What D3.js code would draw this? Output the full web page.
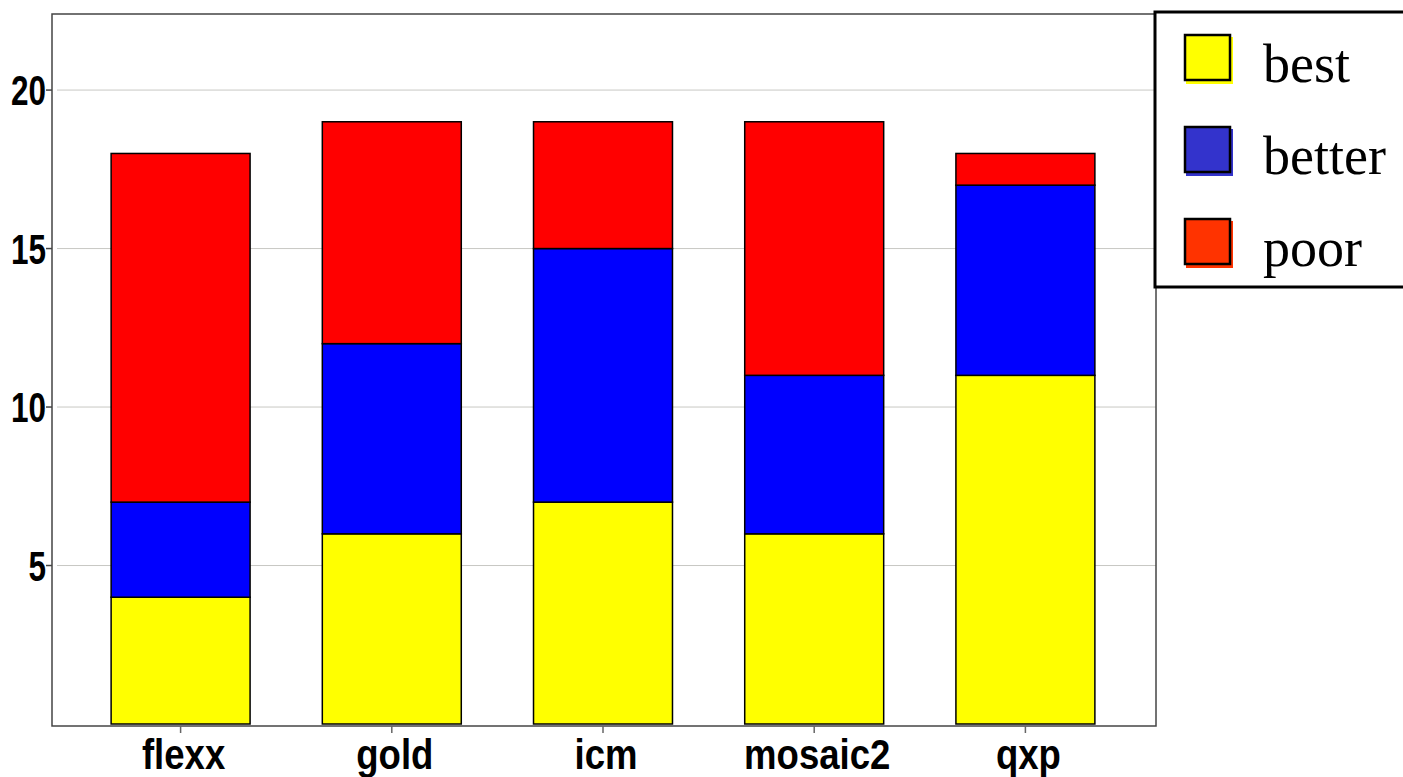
<!DOCTYPE html>
<html>
<head>
<meta charset="utf-8">
<script src="https://cdn.jsdelivr.net/npm/d3@7"></script>
<style>
  body { margin: 0; background: #fff; }
  .tick-label { font-family: "Liberation Sans", Arial, sans-serif; font-weight: bold; }
  .legend-label { font-family: "Liberation Serif", "Times New Roman", serif; }
</style>
</head>
<body>
<div class="chart"></div>
<script>
const WIDTH = 1403,
    HEIGHT = 777;

// data
const categories = ["flexx", "gold", "icm", "mosaic2", "qxp"];
const seriesNames = ["best", "better", "poor"];
const best = [4, 6, 7, 6, 11];
const better = [3, 6, 8, 5, 6];
const poor = [11, 7, 4, 8, 1];
const yTicks = [5, 10, 15, 20];

const barColors = { best: "#ffff00", better: "#0000ff", poor: "#ff0000" };
const legendColors = { best: "#ffff00", better: "#3333cc", poor: "#ff3300" };

const rows = categories.map((c, i) => ({ cat: c, best: best[i], better: better[i], poor: poor[i] }));

const svg = d3.select(".chart")
    .append("svg")
    .attr("width", WIDTH)
    .attr("height", HEIGHT);

const plot = { left: 52, right: 1156, top: 14, bottom: 726 };

const x = d3.scaleBand()
    .domain(categories)
    .range([75, 1131])
    .paddingInner(0.342)
    .paddingOuter(0.171);

const y = d3.scaleLinear()
    .domain([0, 22.4])
    .range([724, plot.top]);

// gridlines
svg.append("g")
    .selectAll("line")
    .data(yTicks)
    .join("line")
    .attr("x1", plot.left + 5)
    .attr("x2", plot.right)
    .attr("y1", d => y(d))
    .attr("y2", d => y(d))
    .attr("stroke", "#c8c8c4")
    .attr("stroke-width", 1);

// stacked bars
const stack = d3.stack().keys(seriesNames)(rows);

svg.append("g")
    .selectAll("g")
    .data(stack)
    .join("g")
    .attr("fill", d => barColors[d.key])
    .selectAll("rect")
    .data(d => d)
    .join("rect")
    .attr("x", d => x(d.data.cat))
    .attr("width", x.bandwidth())
    .attr("y", d => y(d[1]))
    .attr("height", d => y(d[0]) - y(d[1]))
    .attr("stroke", "#000")
    .attr("stroke-width", 1.5);

// frame
svg.append("rect")
    .attr("x", plot.left)
    .attr("y", plot.top)
    .attr("width", plot.right - plot.left)
    .attr("height", plot.bottom - plot.top)
    .attr("fill", "none")
    .attr("stroke", "#444")
    .attr("stroke-width", 1.5);

// y axis ticks + labels (narrow bold font faked with a horizontal squeeze)
const yAxis = svg.append("g");
yAxis.selectAll("line")
    .data(yTicks)
    .join("line")
    .attr("x1", plot.left - 6)
    .attr("x2", plot.left)
    .attr("y1", d => y(d))
    .attr("y2", d => y(d))
    .attr("stroke", "#444")
    .attr("stroke-width", 1.5);
yAxis.selectAll("text")
    .data(yTicks)
    .join("text")
    .attr("class", "tick-label")
    .attr("transform", d => `translate(${plot.left - 6}, ${y(d)}) scale(0.75, 1)`)
    .attr("dy", "0.36em")
    .attr("text-anchor", "end")
    .attr("font-size", 42)
    .text(d => d);

// x axis ticks + labels
const xAxis = svg.append("g");
xAxis.selectAll("line")
    .data(categories)
    .join("line")
    .attr("x1", d => x(d) + x.bandwidth() / 2)
    .attr("x2", d => x(d) + x.bandwidth() / 2)
    .attr("y1", plot.bottom)
    .attr("y2", plot.bottom + 7)
    .attr("stroke", "#666")
    .attr("stroke-width", 1.5);
xAxis.selectAll("text")
    .data(categories)
    .join("text")
    .attr("class", "tick-label")
    .attr("transform", d => `translate(${x(d) + x.bandwidth() / 2 + 3}, 769) scale(0.85, 1)`)
    .attr("text-anchor", "middle")
    .attr("font-size", 43)
    .text(d => d);

// legend
const legend = svg.append("g");
legend.append("rect")
    .attr("x", 1155)
    .attr("y", 12)
    .attr("width", 260)
    .attr("height", 275)
    .attr("fill", "#fff")
    .attr("stroke", "#000")
    .attr("stroke-width", 3);

const item = legend.selectAll("g.item")
    .data(seriesNames)
    .join("g")
    .attr("class", "item")
    .attr("transform", (d, i) => `translate(1185, ${35 + i * 92})`);

item.append("rect")
    .attr("x", 1)
    .attr("y", 2)
    .attr("width", 47)
    .attr("height", 47)
    .attr("fill", d => legendColors[d]);
item.append("rect")
    .attr("x", 0)
    .attr("y", 0)
    .attr("width", 45)
    .attr("height", 45)
    .attr("fill", d => legendColors[d])
    .attr("stroke", "#000")
    .attr("stroke-width", 2.5);
item.append("text")
    .attr("class", "legend-label")
    .attr("x", 78)
    .attr("y", 47)
    .attr("font-size", 54)
    .text(d => d);
</script>
</body>
</html>
